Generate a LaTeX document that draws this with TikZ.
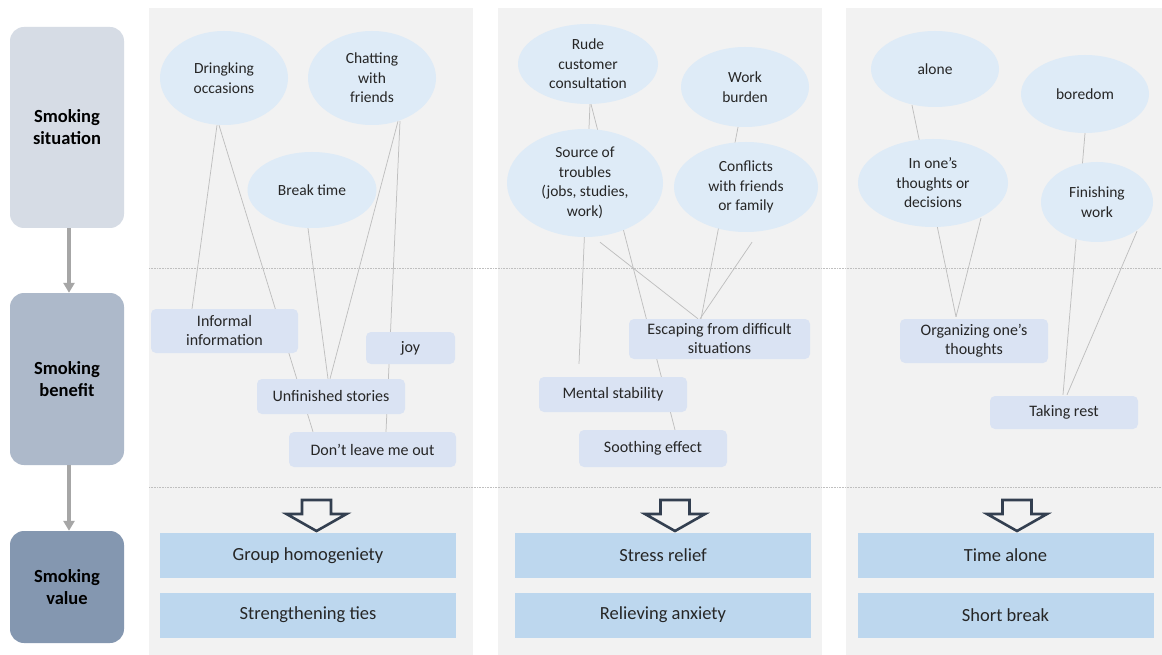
\documentclass[tikz,border=0pt]{standalone}
\usepackage{fontspec}
\setmainfont{Carlito}
\usetikzlibrary{shapes.geometric,calc,arrows.meta}
\definecolor{panelbg}{HTML}{F2F2F2}
\definecolor{ellfill}{HTML}{DEEBF7}
\definecolor{benfill}{HTML}{DAE3F3}
\definecolor{valfill}{HTML}{BDD7EE}
\definecolor{labA}{HTML}{D6DCE5}
\definecolor{labB}{HTML}{ADB9CA}
\definecolor{labC}{HTML}{8497B0}
\definecolor{conline}{HTML}{BFBFBF}
\definecolor{grayarrow}{HTML}{A6A6A6}
\definecolor{hollow}{HTML}{333F50}
\definecolor{txt}{HTML}{262626}
\pgfdeclarelayer{bg}
\pgfdeclarelayer{lines}
\pgfsetlayers{bg,lines,main}
\tikzset{
  ell/.style={ellipse, fill=ellfill, inner sep=0pt, align=center, text=txt,
    font=\fontsize{15.5}{19.5}\selectfont},
  benbox/.style={rectangle, rounded corners=5pt, fill=benfill, inner sep=0pt, align=center, text=txt,
    font=\fontsize{16}{19}\selectfont},
  valbox/.style={rectangle, fill=valfill, inner sep=0pt, align=center, text=txt,
    minimum width=296pt, minimum height=45pt, font=\fontsize{18.5}{22}\selectfont},
  labbox/.style={rectangle, rounded corners=14pt, inner sep=0pt, align=center, text=black,
    minimum width=114pt, font=\fontsize{18.5}{22}\selectfont\bfseries},
  con/.style={draw=conline, line width=0.75pt},
  flow/.style={draw=grayarrow, line width=3.5pt, -{Triangle[length=10pt,width=11pt]}},
  hollowarrow/.style={draw=hollow, line width=2.6pt, line join=miter, fill=none},
}
\begin{document}
\begin{tikzpicture}[x=1pt,y=-1pt]
\useasboundingbox (0,0) rectangle (1162,655);

% panels
\begin{pgfonlayer}{bg}
\fill[white] (0,0) rectangle (1162,655);
\fill[panelbg] (149,8) rectangle (473,655);
\fill[panelbg] (498,8) rectangle (822,655);
\fill[panelbg] (846,8) rectangle (1162,655);
\draw[conline, line width=0.6pt, densely dotted] (149,268) -- (1162,268);
\draw[conline, line width=0.6pt, densely dotted] (149,487) -- (1162,487);
\end{pgfonlayer}

% left labels
\node[labbox, fill=labA, minimum height=201pt] (sit) at (67,127.5) {Smoking\\situation};
\node[labbox, fill=labB, minimum height=172pt] (ben) at (67,379) {Smoking\\benefit};
\node[labbox, fill=labC, minimum height=112pt] (val) at (67,587) {Smoking\\value};
\draw[flow] ($(sit.south)+(2,0)$) -- ($(ben.north)+(2,0)$);
\draw[flow] ($(ben.south)+(2,0)$) -- ($(val.north)+(2,0)$);

% panel 1
\node[ell, minimum width=128pt, minimum height=94pt] (dring) at (224,78) {Dringking\\occasions};
\node[ell, minimum width=128pt, minimum height=94pt] (chat) at (372,78) {Chatting\\with\\friends};
\node[ell, minimum width=129pt, minimum height=76pt] (break) at (312,190) {Break time};
\node[benbox, minimum width=147pt, minimum height=44pt] (info) at (224.5,331) {Informal\\information};
\node[benbox, minimum width=89pt, minimum height=32pt] (joy) at (410.5,348) {joy};
\node[benbox, minimum width=148pt, minimum height=35pt] (unfin) at (331,396.5) {Unfinished stories};
\node[benbox, minimum width=167pt, minimum height=35pt] (dont) at (372.5,449.5) {Don’t leave me out};

% panel 2
\node[ell, minimum width=140pt, minimum height=80pt] (rude) at (588,64) {Rude\\customer\\consultation};
\node[ell, minimum width=128pt, minimum height=80pt] (work) at (745,87) {Work\\burden};
\node[ell, minimum width=156pt, minimum height=108pt] (source) at (585,183) {Source of\\troubles\\(jobs, studies,\\work)};
\node[ell, minimum width=144pt, minimum height=90pt] (conf) at (746,187) {Conflicts\\with friends\\or family};
\node[benbox, minimum width=181pt, minimum height=40pt] (escape) at (719.5,339) {Escaping from difficult\\situations};
\node[benbox, minimum width=148pt, minimum height=35pt] (mental) at (613,394.5) {Mental stability};
\node[benbox, minimum width=148pt, minimum height=37pt] (sooth) at (653,448.5) {Soothing effect};

% panel 3
\node[ell, minimum width=128pt, minimum height=76pt] (alone) at (935,69) {alone};
\node[ell, minimum width=128pt, minimum height=78pt] (bored) at (1085,94) {boredom};
\node[ell, minimum width=150pt, minimum height=88pt] (inone) at (933,183) {In one’s\\thoughts or\\decisions};
\node[ell, minimum width=112pt, minimum height=80pt] (finish) at (1097,202) {Finishing\\work};
\node[benbox, minimum width=148pt, minimum height=44pt] (organ) at (974,341) {Organizing one’s\\thoughts};
\node[benbox, minimum width=148pt, minimum height=33pt] (rest) at (1064,412.5) {Taking rest};

% value boxes
\node[valbox] (v11) at (308,555.5) {Group homogeniety};
\node[valbox] (v12) at (308,615) {Strengthening ties};
\node[valbox] (v21) at (663,555.5) {Stress relief};
\node[valbox] (v22) at (663,615) {Relieving anxiety};
\node[valbox] (v31) at (1005.5,555.5) {Time alone};
\node[valbox] (v32) at (1005.5,615) {Short break};

% hollow arrows
\foreach \cx/\nm in {316.5/a1, 675/a2, 1017/a3}{
  \draw[hollowarrow] (\cx-14.5,500) -- (\cx+14.5,500) -- (\cx+14.5,514) -- (\cx+30,514)
    -- (\cx,531) -- (\cx-30,514) -- (\cx-14.5,514) -- cycle;
}

% connectors
\coordinate (mentalend) at ($(mental.north)+(-34,-13)$);
\begin{pgfonlayer}{lines}
\draw[con] ($(dring.south)+(-7,0)$) -- ($(info.north)+(-32.5,0)$);
\draw[con] ($(dring.south)+(-5,0)$) -- ($(dont.north)+(-59.5,0)$);
\draw[con] ($(break.south)+(-4,0)$) -- ($(unfin.north)+(-3,0)$);
\draw[con] ($(chat.south)+(26,-4)$) -- ($(unfin.north)+(-1,0)$);
\draw[con] ($(chat.south)+(28,-4)$) -- ($(dont.north)+(13.5,0)$);

\draw[con] ($(rude.south)+(2,0)$) -- (mentalend);
\draw[con] ($(rude.south)+(3,0)$) -- ($(sooth.north)+(22,0)$);
\draw[con] ($(source.south)+(15,5)$) -- ($(escape.north)+(-21.5,0)$);
\draw[con] ($(work.south)+(-7,0)$) -- ($(escape.north)+(-18.5,0)$);
\draw[con] ($(conf.south)+(6,10)$) -- ($(escape.north)+(-19.5,0)$);

\draw[con] ($(alone.south)+(-23,-2)$) -- ($(organ.north)+(-18,-2)$);
\draw[con] ($(inone.south)+(48,-9)$) -- ($(organ.north)+(-18,-2)$);
\draw[con] (bored.south) -- ($(rest.north)+(-1,-1)$);
\draw[con] ($(finish.south)+(40,-11)$) -- ($(rest.north)+(3,-1)$);
\end{pgfonlayer}
\end{tikzpicture}
\end{document}
